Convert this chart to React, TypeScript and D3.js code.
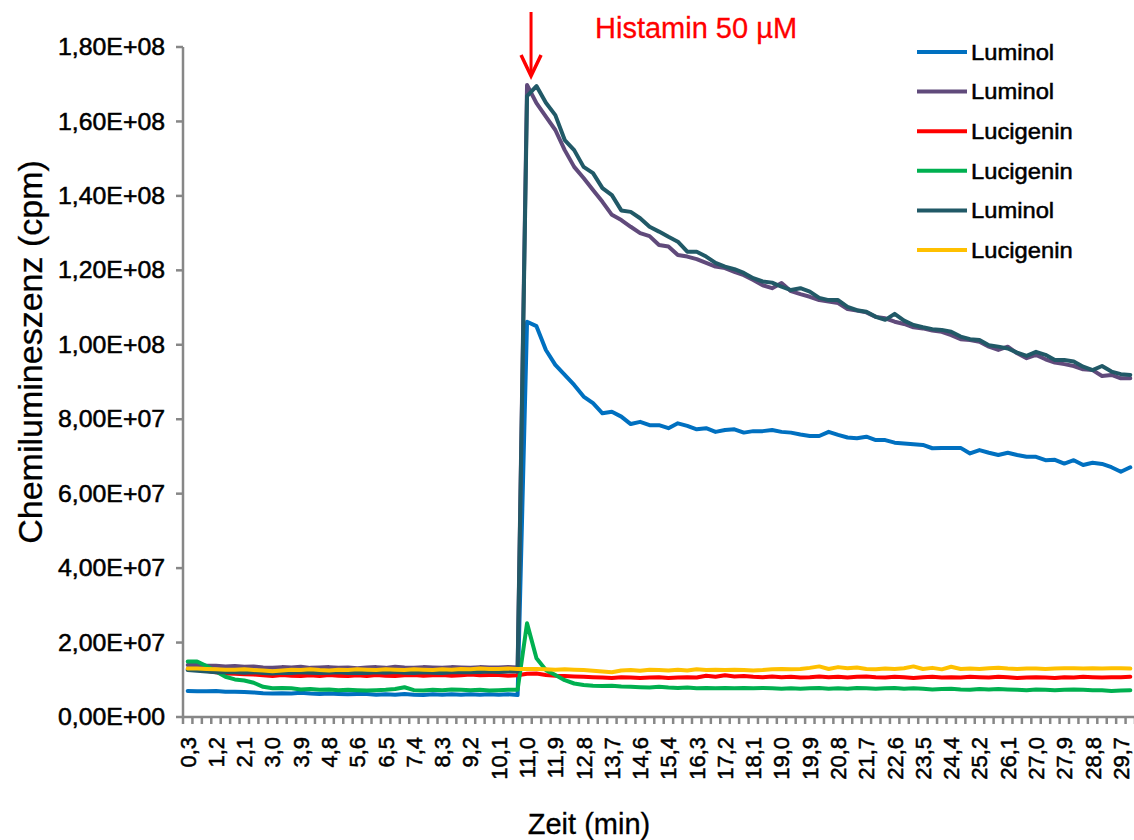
import React from "react";
import * as d3 from "d3";

// Time categories (min), one per measurement point
const categories: string[] = [
  "0,3","0,6","0,9","1,2","1,5","1,8","2,1","2,4","2,7","3,0",
  "3,3","3,6","3,9","4,2","4,5","4,8","5,0","5,3","5,6","5,9",
  "6,2","6,5","6,8","7,1","7,4","7,7","8,0","8,3","8,6","8,9",
  "9,2","9,5","9,8","10,1","10,4","10,7","11,0","11,3","11,6","11,9",
  "12,2","12,5","12,8","13,1","13,4","13,7","14,0","14,3","14,6","14,9",
  "15,1","15,4","15,7","16,0","16,3","16,6","16,9","17,2","17,5","17,8",
  "18,1","18,4","18,7","19,0","19,3","19,6","19,9","20,2","20,5","20,8",
  "21,1","21,4","21,7","22,0","22,3","22,6","22,9","23,2","23,5","23,8",
  "24,1","24,4","24,7","24,9","25,2","25,5","25,8","26,1","26,4","26,7",
  "27,0","27,3","27,6","27,9","28,2","28,5","28,8","29,1","29,4","29,7",
  "30,0"
];

// Values in millions of cpm
const luminolBlue: number[] = [
  7.0,6.9,6.9,7.0,6.8,6.8,6.7,6.6,6.4,6.3,
  6.4,6.3,6.5,6.3,6.2,6.3,6.2,6.1,6.2,6.2,
  6.0,6.1,6.0,6.2,6.0,5.9,6.1,6.0,6.1,6.0,
  6.1,6.0,6.1,6.0,6.1,5.9,106.2,105.0,98.6,94.6,
  91.9,89.2,86.1,84.3,81.6,82.0,80.7,78.7,79.3,78.4,
  78.4,77.6,78.9,78.2,77.3,77.6,76.6,77.1,77.3,76.4,
  76.8,76.8,77.1,76.6,76.4,75.9,75.5,75.5,76.6,75.8,
  75.1,74.9,75.3,74.4,74.4,73.7,73.5,73.3,73.1,72.2,
  72.3,72.3,72.3,70.8,71.7,71.0,70.4,71.0,70.4,69.9,
  69.9,69.0,69.1,68.1,69.0,67.7,68.3,68.0,67.1,65.9,
  67.1
];

const luminolPurple: number[] = [
  14.0,14.0,13.8,13.8,13.6,13.7,13.5,13.6,13.3,13.2,
  13.4,13.3,13.5,13.2,13.3,13.4,13.2,13.3,13.1,13.3,
  13.4,13.2,13.5,13.3,13.2,13.4,13.3,13.2,13.4,13.3,
  13.2,13.4,13.3,13.3,13.4,13.3,169.8,164.9,161.3,157.7,
  152.3,147.8,144.8,141.6,138.4,134.9,133.5,131.7,130.0,129.2,
  126.8,126.4,124.1,123.7,123.0,122.0,121.0,120.6,119.6,118.7,
  117.4,116.0,115.2,116.6,114.4,113.6,112.9,112.0,111.6,111.2,
  109.6,109.2,108.7,107.5,107.1,106.2,105.6,104.7,104.4,103.8,
  103.5,102.6,101.5,101.3,100.8,99.5,98.6,99.5,97.7,96.4,
  97.3,96.1,95.2,94.8,94.3,93.4,93.2,91.6,91.9,91.0,
  91.0
];

const lucigeninRed: number[] = [
  12.8,12.8,12.4,12.0,11.7,11.6,11.5,11.4,11.2,11.0,
  11.3,11.1,11.0,11.2,11.0,11.3,11.1,11.0,11.2,11.0,
  11.3,11.1,11.0,11.2,11.3,11.1,11.2,11.3,11.1,11.2,
  11.4,11.2,11.3,11.3,11.1,11.2,11.6,11.7,11.3,11.1,
  11.0,10.9,10.8,10.7,10.6,10.5,10.7,10.6,10.5,10.6,
  10.7,10.5,10.6,10.7,10.6,11.1,10.8,11.2,10.9,11.0,
  10.8,10.7,10.9,10.7,10.8,10.6,10.7,10.9,10.7,10.8,
  10.6,10.8,10.9,10.7,10.6,10.8,10.7,10.5,10.7,10.8,
  10.6,10.7,10.6,10.8,10.7,10.6,10.8,10.7,10.5,10.6,
  10.7,10.6,10.5,10.7,10.6,10.8,10.7,10.6,10.7,10.7,
  10.8
];

const lucigeninGreen: number[] = [
  14.9,14.9,13.7,12.2,10.8,10.1,9.8,9.2,8.1,7.7,
  7.8,7.7,7.4,7.5,7.3,7.4,7.2,7.3,7.2,7.1,
  7.2,7.3,7.5,8.0,7.2,7.1,7.3,7.2,7.4,7.3,
  7.2,7.3,7.1,7.2,7.3,7.3,25.2,15.8,12.6,11.3,
  9.9,9.0,8.6,8.4,8.3,8.4,8.2,8.1,8.0,7.9,
  8.1,7.9,7.8,7.9,7.7,7.8,7.7,7.8,7.7,7.8,
  7.7,7.8,7.7,7.6,7.7,7.6,7.7,7.8,7.6,7.7,
  7.6,7.8,7.7,7.6,7.7,7.8,7.6,7.7,7.6,7.4,
  7.5,7.6,7.4,7.3,7.5,7.4,7.5,7.4,7.3,7.2,
  7.4,7.3,7.2,7.3,7.4,7.3,7.2,7.2,7.0,7.1,
  7.2
];

const luminolTeal: number[] = [
  12.6,12.4,12.2,12.0,12.1,12.0,11.9,12.0,11.8,11.7,
  11.9,11.8,12.0,11.9,11.8,11.9,12.0,11.8,11.9,11.8,
  12.0,11.9,12.1,11.9,11.8,12.0,11.9,11.8,12.0,12.1,
  12.0,12.1,12.2,12.1,12.2,12.2,166.8,169.5,165.0,161.7,
  155.0,152.3,147.8,146.1,142.1,140.2,136.1,135.7,134.0,131.7,
  130.4,129.0,127.7,125.0,125.0,123.7,122.0,121.0,120.3,119.3,
  117.9,117.0,116.7,115.6,114.7,115.2,114.3,112.6,112.0,112.0,
  110.2,109.3,108.9,107.5,106.7,108.3,106.5,105.3,104.7,104.2,
  104.0,103.5,102.2,101.5,101.3,99.9,99.5,99.0,97.9,97.0,
  98.1,97.3,95.9,95.9,95.5,94.1,93.2,94.3,92.8,92.1,
  91.9
];

const lucigeninYellow: number[] = [
  13.0,13.0,12.9,12.8,12.7,12.7,12.8,12.6,12.5,12.3,
  12.5,12.7,12.6,12.8,12.6,12.5,12.7,12.6,12.8,12.7,
  12.6,12.8,12.7,12.6,12.8,12.7,12.6,12.8,12.7,12.9,
  12.8,13.0,12.9,12.9,13.0,12.9,12.9,12.9,12.8,12.7,
  12.8,12.7,12.6,12.4,12.2,12.0,12.5,12.6,12.4,12.7,
  12.6,12.5,12.7,12.5,12.8,12.6,12.7,12.6,12.7,12.6,
  12.5,12.6,12.8,12.9,12.8,12.9,13.2,13.6,12.9,13.4,
  13.1,13.3,12.9,12.8,13.0,12.9,13.1,13.6,12.9,13.2,
  12.8,13.5,12.9,13.0,12.9,13.1,13.2,13.0,12.9,13.0,
  13.0,12.9,13.0,13.1,13.1,13.0,13.1,13.0,13.1,13.1,
  13.0
];

const seriesNames: string[] = ["Luminol", "Luminol", "Lucigenin", "Lucigenin", "Luminol", "Lucigenin"];
const seriesColors: string[] = ["#0070C0", "#604A7B", "#FF0000", "#00B050", "#215967", "#FFC000"];
const seriesValues: number[][] = [luminolBlue, luminolPurple, lucigeninRed, lucigeninGreen, luminolTeal, lucigeninYellow];

const yTicks: number[] = [0, 20, 40, 60, 80, 100, 120, 140, 160, 180]; // millions
const annotationText = "Histamin 50 µM";
const annotationCategory = "11,0";

const W = 1134;
const H = 840;
const FONT = "'Liberation Sans', Arial, sans-serif";

function sci(vMillions: number): string {
  const v = vMillions * 1e6;
  if (v === 0) return "0,00E+00";
  const e = Math.floor(Math.log10(v));
  const m = v / Math.pow(10, e);
  return `${m.toFixed(2).replace(".", ",")}E+${String(e).padStart(2, "0")}`;
}

export default function App() {
  const left = 183, right = 1135, top = 47, bottom = 717;
  const x = d3.scaleBand<string>().domain(categories).range([left, right]).padding(0);
  const y = d3.scaleLinear().domain([0, 180]).range([bottom, top]);
  const cx = (c: string) => (x(c) ?? 0) + x.bandwidth() / 2;

  const line = d3
    .line<number>()
    .x((_, i) => cx(categories[i]))
    .y((v) => y(v));

  const axisColor = "#878787";
  const tickBounds = d3.range(categories.length + 1).map((i) => left + i * x.bandwidth());
  const arrowX = cx(annotationCategory) + 4;
  const textStroke = { stroke: "#000", strokeWidth: 0.5 };

  return (
    <svg
      width={W}
      height={H}
      style={{ position: "absolute", left: 0, top: 0, display: "block", background: "#fff" }}
      fontFamily={FONT}
    >
      <rect x={0} y={0} width={W} height={H} fill="#fff" />

      {/* y axis */}
      <line x1={left} x2={left} y1={top} y2={bottom} stroke={axisColor} strokeWidth={2.5} />
      {yTicks.map((t) => (
        <g key={t}>
          <line x1={left - 7} x2={left} y1={y(t)} y2={y(t)} stroke={axisColor} strokeWidth={2.5} />
          <text
            transform={`translate(165,${y(t)}) scale(1.08,1)`}
            textAnchor="end"
            dy="0.35em"
            fontSize={23}
            fill="#000"
            {...textStroke}
          >
            {sci(t)}
          </text>
        </g>
      ))}

      {/* x axis */}
      <line x1={left} x2={right} y1={bottom} y2={bottom} stroke={axisColor} strokeWidth={2.5} />
      {tickBounds.map((tx, i) => (
        <line key={i} x1={tx} x2={tx} y1={bottom} y2={bottom + 7} stroke={axisColor} strokeWidth={2.5} />
      ))}
      {categories.map((c, i) =>
        i % 3 === 0 ? (
          <text
            key={c}
            transform={`translate(${cx(c)},737) rotate(-90)`}
            textAnchor="end"
            dy="0.36em"
            fontSize={22}
            fill="#000"
            {...textStroke}
          >
            {c}
          </text>
        ) : null
      )}

      {/* series */}
      {seriesValues.map((vals, si) => (
        <path
          key={si}
          d={line(vals) ?? ""}
          fill="none"
          stroke={seriesColors[si]}
          strokeWidth={4}
          strokeLinejoin="round"
          strokeLinecap="round"
        />
      ))}

      {/* axis titles */}
      <text
        transform={`translate(42,352) rotate(-90)`}
        textAnchor="middle"
        fontSize={34}
        fill="#000"
        stroke="#000"
        strokeWidth={0.3}
      >
        Chemilumineszenz (cpm)
      </text>
      <text transform={`translate(589,834)`} textAnchor="middle" fontSize={29} fill="#000" stroke="#000" strokeWidth={0.3}>
        Zeit (min)
      </text>

      {/* legend */}
      {seriesNames.map((n, i) => {
        const ly = 52 + i * 39.6;
        return (
          <g key={i}>
            <line x1={917} x2={967} y1={ly} y2={ly} stroke={seriesColors[i]} strokeWidth={4} />
            <text
              transform={`translate(971,${ly}) scale(1.08,1)`}
              dy="0.35em"
              fontSize={22}
              fill="#000"
              {...textStroke}
            >
              {n}
            </text>
          </g>
        );
      })}

      {/* annotation */}
      <line x1={arrowX} x2={arrowX} y1={12} y2={74} stroke="#FF0000" strokeWidth={3} />
      <polyline
        points={`${arrowX - 10},${55} ${arrowX},${76} ${arrowX + 10},${55}`}
        fill="none"
        stroke="#FF0000"
        strokeWidth={3.5}
      />
      <text transform={`translate(595,38)`} fontSize={29} fill="#FF0000" stroke="#FF0000" strokeWidth={0.3}>
        {annotationText}
      </text>
    </svg>
  );
}
